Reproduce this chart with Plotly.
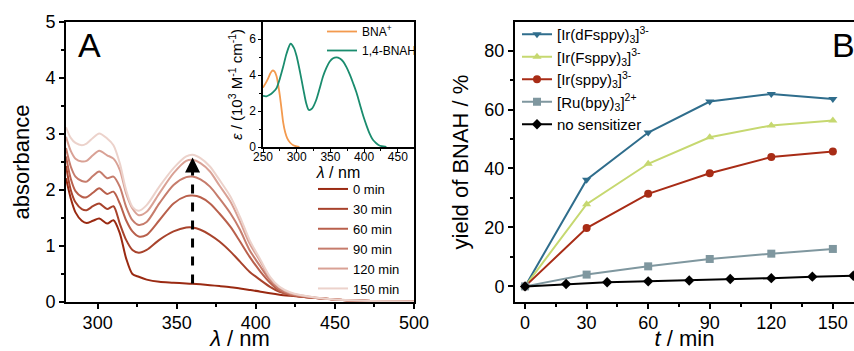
import plotly.graph_objects as go

# ---------------- Panel A: UV-vis spectra ----------------
wavelength = [280, 283, 286, 290, 293, 297, 301, 306, 310, 314, 318, 322, 326, 331, 339, 348, 356,
              360, 365, 371, 377, 384, 390, 396, 403, 409, 415, 422, 428, 440, 450, 465, 480, 500]
abs_0min = [2.21, 1.85, 1.60, 1.45, 1.41, 1.45, 1.49, 1.40, 1.46, 1.23, 0.78, 0.50, 0.45, 0.40, 0.36, 0.345, 0.33,
            0.325, 0.315, 0.30, 0.285, 0.265, 0.24, 0.215, 0.185, 0.155, 0.13, 0.11, 0.095, 0.065, 0.045, 0.025, 0.015, 0.01]
abs_30min = [2.43, 2.00, 1.78, 1.66, 1.64, 1.71, 1.76, 1.66, 1.71, 1.40, 1.11, 0.93, 0.88, 0.93, 1.11, 1.26, 1.33,
             1.33, 1.29, 1.20, 1.08, 0.90, 0.72, 0.54, 0.39, 0.27, 0.18, 0.125, 0.10, 0.065, 0.045, 0.025, 0.015, 0.01]
abs_60min = [2.60, 2.20, 1.98, 1.88, 1.87, 1.95, 2.03, 1.93, 1.97, 1.76, 1.46, 1.26, 1.17, 1.20, 1.46, 1.76, 1.89,
             1.90, 1.87, 1.76, 1.58, 1.34, 1.08, 0.81, 0.54, 0.345, 0.20, 0.125, 0.10, 0.065, 0.045, 0.025, 0.015, 0.01]
abs_90min = [2.75, 2.42, 2.24, 2.16, 2.15, 2.25, 2.33, 2.21, 2.24, 2.06, 1.70, 1.46, 1.375, 1.43, 1.76, 2.09, 2.23,
             2.24, 2.19, 2.06, 1.85, 1.58, 1.29, 0.93, 0.63, 0.39, 0.23, 0.14, 0.11, 0.065, 0.045, 0.025, 0.015, 0.01]
abs_120min = [2.95, 2.70, 2.56, 2.51, 2.52, 2.62, 2.70, 2.62, 2.56, 2.36, 1.94, 1.67, 1.55, 1.61, 1.94, 2.30, 2.52,
              2.54, 2.48, 2.33, 2.08, 1.79, 1.44, 1.05, 0.72, 0.42, 0.26, 0.155, 0.12, 0.07, 0.045, 0.025, 0.015, 0.01]
abs_150min = [3.12, 2.93, 2.84, 2.80, 2.83, 2.93, 3.01, 2.92, 2.80, 2.48, 2.00, 1.70, 1.63, 1.73, 2.06, 2.39, 2.60,
              2.63, 2.57, 2.42, 2.18, 1.88, 1.52, 1.11, 0.75, 0.45, 0.27, 0.17, 0.125, 0.07, 0.045, 0.025, 0.015, 0.01]
spectra_labels = ["0 min", "30 min", "60 min", "90 min", "120 min", "150 min"]
spectra_colors = ["#9a2a12", "#a8432c", "#b9604c", "#c67c6c", "#d9a195", "#ecd2cb"]

# ---------------- Inset: reference spectra ----------------
bnah_wl = [250, 255, 260, 265, 270, 275, 280, 285, 291, 296, 300, 305, 310, 314, 318, 323, 329, 334, 339, 344,
           349, 354, 359, 364, 369, 374, 379, 384, 389, 394, 399, 404, 408, 413, 418, 422, 426, 433]
bnah_eps = [2.84, 2.82, 2.90, 3.05, 3.27, 3.80, 4.47, 5.20, 5.74, 5.50, 5.03, 4.15, 3.18, 2.45, 2.06, 2.15, 2.62,
            3.25, 3.92, 4.40, 4.75, 4.93, 4.98, 4.92, 4.75, 4.43, 4.01, 3.52, 2.99, 2.33, 1.69, 1.15, 0.76, 0.40,
            0.21, 0.10, 0.05, 0.0]
bnap_wl = [250, 254, 258, 261, 264, 267, 270, 273, 275, 278, 280, 283, 286, 290, 295, 300, 304]
bnap_eps = [3.30, 3.55, 3.85, 4.10, 4.25, 4.20, 3.95, 3.35, 2.85, 1.95, 1.35, 0.80, 0.48, 0.25, 0.10, 0.03, 0.0]

# ---------------- Panel B: yields ----------------
t_sens = [0, 30, 60, 90, 120, 150]
y_dFsppy = [0, 36.2, 52.2, 62.7, 65.3, 63.6]
y_Fsppy = [0, 27.9, 41.6, 50.6, 54.6, 56.3]
y_sppy = [0, 19.8, 31.4, 38.4, 43.9, 45.8]
y_ru = [0, 4.0, 6.8, 9.3, 11.1, 12.7]
t_none = [0, 20, 40, 60, 80, 100, 120, 140, 160]
y_none = [0, 0.8, 1.4, 1.7, 2.0, 2.5, 2.8, 3.3, 3.6]

FONT = "Liberation Sans, Arial, sans-serif"
fig = go.Figure()

for lab, ys, col in zip(spectra_labels,
                        [abs_0min, abs_30min, abs_60min, abs_90min, abs_120min, abs_150min],
                        spectra_colors):
    fig.add_trace(go.Scatter(x=wavelength, y=ys, mode="lines", name=lab,
                             line=dict(color=col, width=2, shape="spline", smoothing=0.8),
                             xaxis="x", yaxis="y", legend="legend"))

fig.add_trace(go.Scatter(x=bnap_wl, y=bnap_eps, mode="lines", name="BNA<sup>+</sup>",
                         line=dict(color="#f39a4e", width=1.8, shape="spline", smoothing=0.8),
                         xaxis="x2", yaxis="y2", legend="legend3"))
fig.add_trace(go.Scatter(x=bnah_wl, y=bnah_eps, mode="lines", name="1,4-BNAH",
                         line=dict(color="#1a8c6e", width=1.8, shape="spline", smoothing=0.8),
                         xaxis="x2", yaxis="y2", legend="legend3"))

series_B = [
    ("[Ir(dFsppy)<sub>3</sub>]<sup>3-</sup>", t_sens, y_dFsppy, "#2f6d8c", "triangle-down"),
    ("[Ir(Fsppy)<sub>3</sub>]<sup>3-</sup>", t_sens, y_Fsppy, "#c6d870", "triangle-up"),
    ("[Ir(sppy)<sub>3</sub>]<sup>3-</sup>", t_sens, y_sppy, "#a82c16", "circle"),
    ("[Ru(bpy)<sub>3</sub>]<sup>2+</sup>", t_sens, y_ru, "#7f979f", "square"),
    ("no sensitizer", t_none, y_none, "#000000", "diamond"),
]
for name, xs, ys, col, sym in series_B:
    fig.add_trace(go.Scatter(x=xs, y=ys, mode="lines+markers", name=name,
                             line=dict(color=col, width=2),
                             marker=dict(color=col, symbol=sym, size=8),
                             xaxis="x3", yaxis="y3", legend="legend2"))

axis_common = dict(showline=True, linecolor="black", linewidth=2, ticks="outside", automargin=False,
                   ticklen=5, tickwidth=1.5, tickcolor="black", showgrid=False, zeroline=False,
                   tickfont=dict(family=FONT, size=18, color="black"))
inset_common = dict(showline=True, linecolor="black", linewidth=1.5, ticks="outside", ticklen=3,
                    tickcolor="black", showgrid=False, zeroline=False, automargin=False, mirror=True,
                    tickfont=dict(family=FONT, size=12, color="black"))

fig.update_layout(
    template="none",
    width=854, height=351, autosize=False,
    margin=dict(l=0, r=0, t=0, b=0, autoexpand=False),
    paper_bgcolor="white", plot_bgcolor="white",
    font=dict(family=FONT, color="black"),
    showlegend=True,
    xaxis=dict(domain=[66/854, 414/854], range=[280, 500], dtick=50, mirror=True,
               minor=dict(dtick=25, ticks="outside", ticklen=3, tickcolor="black"),
               title=dict(text="<i>λ</i> / nm", font=dict(size=22), standoff=10),
               ticklabelstandoff=-2,
               anchor="y", **axis_common),
    yaxis=dict(domain=[49/351, 329/351], range=[0, 5], dtick=1, mirror=True,
               minor=dict(dtick=0.5, ticks="outside", ticklen=3, tickcolor="black"),
               title=dict(text="absorbance", font=dict(size=22), standoff=10),
               anchor="x", **axis_common),
    xaxis2=dict(domain=[263/854, 414/854], range=[250, 474], dtick=50,
                minor=dict(dtick=25, ticks="outside", ticklen=2, tickcolor="black"),
                title=dict(text="<i>λ</i> / nm", font=dict(size=16), standoff=0),
                ticklabelstandoff=-5,
                anchor="y2", **inset_common),
    yaxis2=dict(domain=[204/351, 329/351], range=[0, 6.95], dtick=2,
                minor=dict(dtick=1, ticks="outside", ticklen=2, tickcolor="black"),
                title=dict(text="<i>ε</i> / (10<sup>3</sup> M<sup>-1</sup> cm<sup>-1</sup>)",
                           font=dict(size=15), standoff=3),
                anchor="x2", **inset_common),
    xaxis3=dict(domain=[515/854, 1.0], range=[-4.9, 160.3], tickvals=[0, 30, 60, 90, 120, 150], mirror=True,
                minor=dict(dtick=15, ticks="outside", ticklen=3, tickcolor="black"),
                title=dict(text="<i>t</i> / min", font=dict(size=22), standoff=10),
                ticklabelstandoff=-2,
                anchor="y3", **axis_common),
    yaxis3=dict(domain=[49/351, 329/351], range=[-5.3, 89.7], tickvals=[0, 20, 40, 60, 80], mirror=False,
                minor=dict(dtick=10, ticks="outside", ticklen=3, tickcolor="black"),
                title=dict(text="yield of BNAH / %", font=dict(size=22), standoff=10),
                anchor="x3", **axis_common),
    legend=dict(x=313/854, y=(351-174)/351, xanchor="left", yanchor="top",
                bgcolor="rgba(0,0,0,0)", font=dict(family=FONT, size=13, color="black"),
                itemwidth=30, tracegroupgap=0),
    legend2=dict(x=517/854, y=(351-18)/351, xanchor="left", yanchor="top",
                 bgcolor="rgba(0,0,0,0)", font=dict(family=FONT, size=15, color="black"),
                 itemwidth=30, tracegroupgap=0),
    legend3=dict(x=322/854, y=(351-17)/351, xanchor="left", yanchor="top",
                 bgcolor="rgba(0,0,0,0)", font=dict(family=FONT, size=12, color="black"),
                 itemwidth=30, tracegroupgap=0),
)

# dashed arrow at 360 nm
fig.add_shape(type="line", xref="x", yref="y", x0=360, x1=360, y0=0.33, y1=2.42,
              line=dict(color="black", width=3, dash="dash"))
fig.add_annotation(xref="x", yref="y", axref="x", ayref="y", x=360, y=2.58, ax=360, ay=2.35,
                   text="", showarrow=True, arrowhead=2, arrowsize=1, arrowwidth=3, arrowcolor="black")

# panel labels
fig.add_annotation(xref="paper", yref="paper", x=89/854, y=(351-45)/351, text="A", showarrow=False,
                   font=dict(family=FONT, size=34, color="black"), xanchor="center", yanchor="middle")
fig.add_annotation(xref="paper", yref="paper", x=843/854, y=(351-45)/351, text="B", showarrow=False,
                   font=dict(family=FONT, size=34, color="black"), xanchor="center", yanchor="middle")

fig.write_html("out.html", config={"displayModeBar": False},
               post_script="document.body.style.margin='0px';")
